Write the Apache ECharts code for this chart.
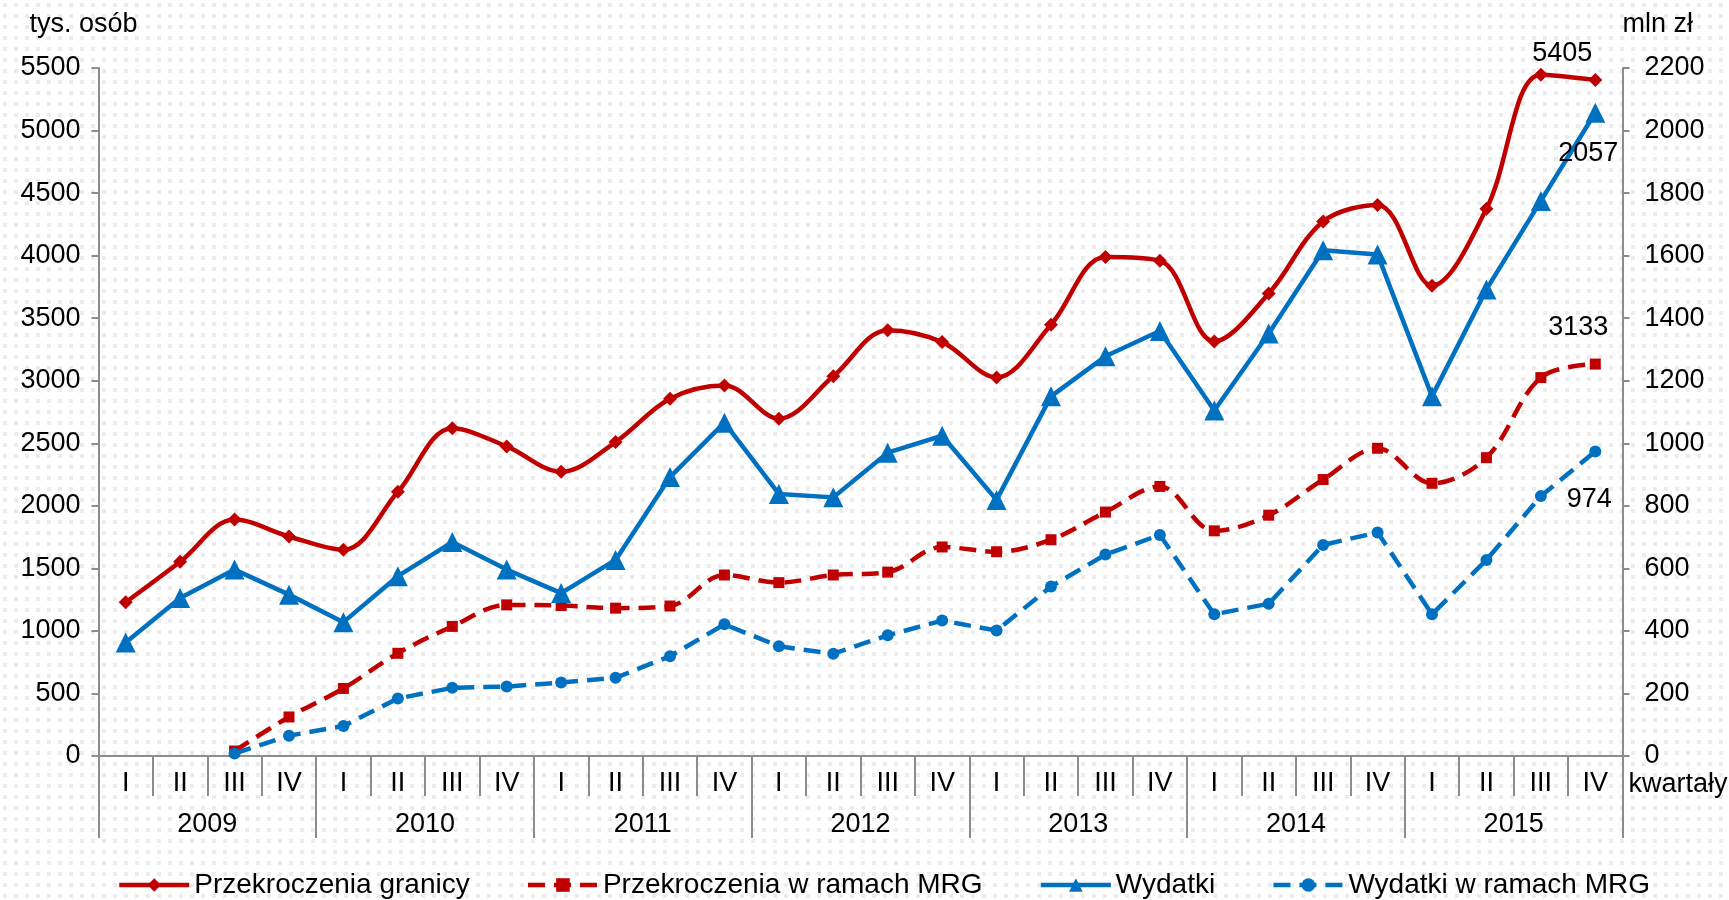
<!DOCTYPE html>
<html>
<head>
<meta charset="utf-8">
<script src="https://cdn.jsdelivr.net/npm/echarts@6/dist/echarts.min.js"></script>
<style>
  html, body { margin: 0; padding: 0; background: #fff; }
  #main { width: 1729px; height: 900px; }
</style>
</head>
<body>
<div id="main"></div>
<script>
var quarters = ["I", "II", "III", "IV", "I", "II", "III", "IV", "I", "II", "III", "IV", "I", "II", "III", "IV",
  "I", "II", "III", "IV", "I", "II", "III", "IV", "I", "II", "III", "IV"];
var years = ["2009", "2010", "2011", "2012", "2013", "2014", "2015"];

// tys. osób (lewa oś)
var przekroczenia = [1229, 1553, 1890, 1755, 1648, 2112, 2620, 2475, 2272, 2510, 2856, 2962, 2697, 3035,
  3404, 3309, 3026, 3448, 3990, 3960, 3314, 3697, 4273, 4405, 3760, 4375, 5447, 5405];
var przekroczeniaMRG = [null, null, 40, 312, 540, 821, 1036, 1208, 1203, 1182, 1199, 1447, 1386, 1447,
  1470, 1671, 1633, 1729, 1950, 2155, 1800, 1925, 2210, 2460, 2180, 2385, 3025, 3133];
// mln zł (prawa oś)
var wydatki = [363, 505, 596, 516, 428, 575, 684, 596, 521, 627, 892, 1066, 838, 827, 970, 1024, 819,
  1150, 1278, 1359, 1105, 1351, 1617, 1604, 1150, 1492, 1775, 2057];
var wydatkiMRG = [null, null, 8, 65, 96, 184, 218, 222, 235, 250, 319, 421, 351, 327, 386, 433, 401,
  542, 644, 707, 453, 487, 675, 715, 453, 627, 831, 974];

var RED = "#C00000";
var BLUE = "#0070C0";
var GREY = "#8c8c8c";
var FONT = "Liberation Sans";
var FS = 27;

// kropkowane tło
var bg = document.createElement("canvas");
bg.width = 11;
bg.height = 11;
var ctx = bg.getContext("2d");
ctx.fillStyle = "#ffffff";
ctx.fillRect(0, 0, 11, 11);
ctx.fillStyle = "#ececec";
ctx.fillRect(3, 3, 4, 4);

// etykieta tylko na ostatnim punkcie
function lastLabel(arr, dx, dy) {
  return arr.map(function (v, i) {
    if (i !== arr.length - 1) return v;
    return {
      value: v,
      label: {
        show: true,
        position: "inside",
        offset: [dx, dy],
        color: "#000",
        fontSize: FS,
        fontFamily: FONT
      }
    };
  });
}

var myChart = echarts.init(document.getElementById("main"));
var option = {
  backgroundColor: { image: bg, repeat: "repeat" },
  animation: false,
  textStyle: { fontFamily: FONT, color: "#000" },
  grid: { left: 98.5, right: 106.5, top: 68, bottom: 144, containLabel: false, outerBoundsMode: "none" },
  legend: {
    left: 112,
    top: 866,
    itemWidth: 70,
    itemHeight: 17,
    itemGap: 56,
    lineStyle: { width: 4.5 },
    textStyle: { fontSize: 28, fontFamily: FONT, color: "#000" },
    data: ["Przekroczenia granicy", "Przekroczenia w ramach MRG", "Wydatki", "Wydatki w ramach MRG"]
  },
  xAxis: [
    {
      type: "category",
      data: quarters,
      position: "bottom",
      name: "kwartały",
      nameLocation: "end",
      nameGap: 6,
      nameMoveOverlap: false,
      nameTextStyle: { fontSize: FS, color: "#000", align: "left", verticalAlign: "top", padding: [15, 0, 0, 0] },
      axisLine: { show: true, lineStyle: { color: GREY, width: 2 } },
      axisTick: { show: true, length: 40, interval: 0, lineStyle: { color: GREY, width: 2 } },
      axisLabel: { interval: 0, margin: 14, fontSize: FS, color: "#000" },
      splitLine: { show: false }
    },
    {
      type: "category",
      data: years,
      position: "bottom",
      axisLine: { show: false },
      axisTick: { show: true, length: 82, interval: 0, lineStyle: { color: GREY, width: 2 } },
      axisLabel: { interval: 0, margin: 55, fontSize: FS, color: "#000" },
      splitLine: { show: false }
    }
  ],
  yAxis: [
    {
      type: "value",
      min: 0,
      max: 5500,
      interval: 500,
      name: "tys. osób",
      nameLocation: "end",
      nameGap: 30,
      nameMoveOverlap: false,
      nameTextStyle: { fontSize: FS, color: "#000", align: "center", verticalAlign: "bottom", padding: [0, 30, 0, 0] },
      axisLine: { show: true, lineStyle: { color: GREY, width: 2 } },
      axisTick: { show: true, length: 7, lineStyle: { color: GREY, width: 2 } },
      axisLabel: { margin: 18, fontSize: FS, color: "#000", formatter: function (v) { return String(v); } },
      splitLine: { show: false }
    },
    {
      type: "value",
      min: 0,
      max: 2200,
      interval: 200,
      name: "mln zł",
      nameLocation: "end",
      nameGap: 30,
      nameMoveOverlap: false,
      nameTextStyle: { fontSize: FS, color: "#000", align: "left", verticalAlign: "bottom" },
      axisLine: { show: true, lineStyle: { color: GREY, width: 2 } },
      axisTick: { show: true, length: 7, lineStyle: { color: GREY, width: 2 } },
      axisLabel: { margin: 22, fontSize: FS, color: "#000", formatter: function (v) { return String(v); } },
      splitLine: { show: false }
    }
  ],
  series: [
    {
      name: "Przekroczenia granicy",
      type: "line",
      yAxisIndex: 0,
      smooth: 0.35,
      symbol: "diamond",
      symbolSize: 14,
      lineStyle: { color: RED, width: 4.5 },
      itemStyle: { color: RED },
      data: lastLabel(przekroczenia, -33, -26)
    },
    {
      name: "Przekroczenia w ramach MRG",
      type: "line",
      yAxisIndex: 0,
      smooth: 0.35,
      symbol: "rect",
      symbolSize: 11,
      lineStyle: { color: RED, width: 4.5, type: [17, 9] },
      itemStyle: { color: RED },
      data: lastLabel(przekroczeniaMRG, -17, -37)
    },
    {
      name: "Wydatki",
      type: "line",
      yAxisIndex: 1,
      symbol: "triangle",
      symbolSize: 20,
      lineStyle: { color: BLUE, width: 4.5 },
      itemStyle: { color: BLUE },
      data: lastLabel(wydatki, -7, 41)
    },
    {
      name: "Wydatki w ramach MRG",
      type: "line",
      yAxisIndex: 1,
      symbol: "circle",
      symbolSize: 12,
      lineStyle: { color: BLUE, width: 4.5, type: [17, 9] },
      itemStyle: { color: BLUE },
      data: lastLabel(wydatkiMRG, -6, 48)
    }
  ]
};
myChart.setOption(option);
</script>
</body>
</html>
